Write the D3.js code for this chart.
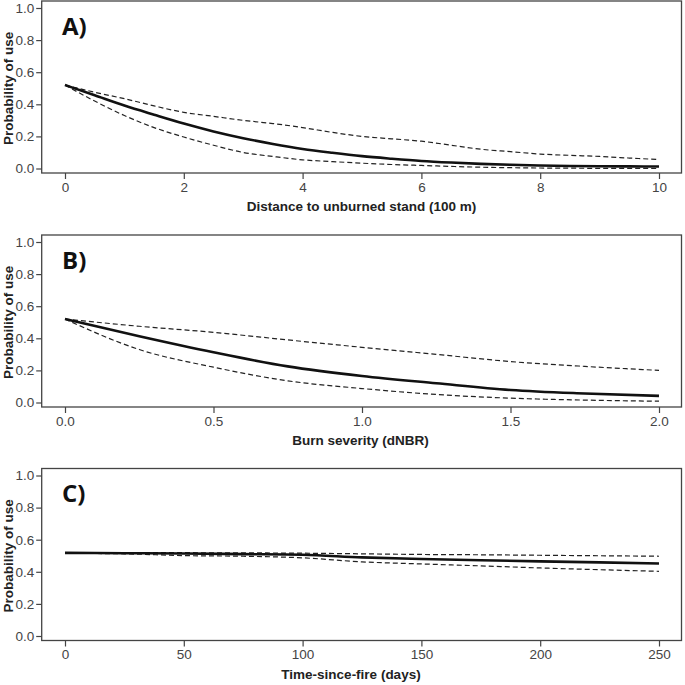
<!DOCTYPE html>
<html><head><meta charset="utf-8">
<script src="https://cdn.jsdelivr.net/npm/d3@7"></script>
<style>
html,body{margin:0;padding:0;background:#fff;}
svg{display:block;}
text{font-family:"Liberation Sans",Arial,sans-serif;}
</style></head>
<body>
<script>
// ---------- data ----------
const panelLabels = ["A)", "B)", "C)"];
const xTitles = ["Distance to unburned stand (100 m)", "Burn severity (dNBR)", "Time-since-fire (days)"];
const yTitle = "Probability of use";
const yTicks = [0, 0.2, 0.4, 0.6, 0.8, 1.0];

// Panel A
const distX = [0,0.5,1,1.5,2,2.5,3,3.5,4,4.5,5,5.5,6,6.5,7,7.5,8,8.5,9,9.5,10];
const distFit = [0.52,0.456,0.392,0.335,0.28,0.231,0.189,0.153,0.122,0.098,0.077,0.061,0.047,0.037,0.029,0.023,0.019,0.016,0.014,0.013,0.012];
const distUpper = [0.52,0.475,0.435,0.39,0.35,0.325,0.30,0.28,0.255,0.225,0.20,0.185,0.17,0.145,0.12,0.105,0.09,0.082,0.075,0.065,0.056];
const distLower = [0.52,0.42,0.33,0.255,0.196,0.145,0.10,0.075,0.054,0.043,0.033,0.025,0.019,0.013,0.008,0.005,0.003,0.002,0.001,0.0005,0.0];
const distTicks = [0,2,4,6,8,10];

// Panel B
const sevX = [0,0.25,0.5,0.75,1.0,1.25,1.5,1.75,2.0];
const sevFit = [0.52,0.413,0.313,0.225,0.165,0.12,0.078,0.056,0.041];
const sevUpper = [0.52,0.475,0.437,0.39,0.344,0.30,0.255,0.225,0.20];
const sevLower = [0.52,0.33,0.22,0.135,0.087,0.05,0.027,0.015,0.008];
const sevTicks = [0.0,0.5,1.0,1.5,2.0];

// Panel C
const tsfX = [0,25,50,75,100,125,150,175,200,225,250];
const tsfFit = [0.518,0.516,0.514,0.51,0.506,0.49,0.48,0.472,0.465,0.459,0.452];
const tsfUpper = [0.52,0.52,0.519,0.518,0.516,0.512,0.508,0.506,0.503,0.5,0.497];
const tsfLower = [0.515,0.512,0.501,0.497,0.487,0.462,0.449,0.437,0.424,0.413,0.403];
const tsfTicks = [0,50,100,150,200,250];

const panels = [
  {x: distX, fit: distFit, up: distUpper, lo: distLower, ticks: distTicks, dom: [0,10], fmt: d3.format("d")},
  {x: sevX, fit: sevFit, up: sevUpper, lo: sevLower, ticks: sevTicks, dom: [0,2], fmt: d3.format(".1f")},
  {x: tsfX, fit: tsfFit, up: tsfUpper, lo: tsfLower, ticks: tsfTicks, dom: [0,250], fmt: d3.format("d")}
];

// ---------- layout ----------
const W = 685, H = 685;
const frameL = 41.7, frameR = 681.5, frameH = 172;
const tops = [1, 235, 468.5];
const titleCx = [361.5, 360.5, 351];

const svg = d3.select("body").append("svg").attr("width", W).attr("height", H);

panels.forEach((p, i) => {
  const T = tops[i], B = T + frameH;
  const x = d3.scaleLinear().domain(p.dom).range([65, 659]);
  const y = d3.scaleLinear().domain([0, 1]).range([T + 167.5, T + 7]);
  const g = svg.append("g");

  // y axis
  const ya = g.append("g").attr("transform", `translate(${frameL},0)`)
    .call(d3.axisLeft(y).tickValues(yTicks).tickFormat(d3.format(".1f")).tickSize(5.5).tickPadding(2));
  // x axis
  const xa = g.append("g").attr("transform", `translate(0,${B})`)
    .call(d3.axisBottom(x).tickValues(p.ticks).tickFormat(p.fmt).tickSize(6).tickPadding(3));
  [ya, xa].forEach(a => {
    a.select(".domain").remove();
    a.selectAll(".tick line").attr("stroke", "#444").attr("stroke-width", 1.2);
    a.selectAll(".tick text").attr("fill", "#444").style("font-size", "13.5px")
      .style("font-family", '"Liberation Sans",Arial,sans-serif');
  });

  // frame
  g.append("rect").attr("x", frameL).attr("y", T).attr("width", frameR - frameL).attr("height", frameH)
    .attr("fill", "none").attr("stroke", "#444").attr("stroke-width", 1.3);

  const line = (vals) => d3.line().x((d, j) => x(p.x[j])).y(d => y(d)).curve(d3.curveMonotoneX)(vals);

  g.append("path").attr("d", line(p.up)).attr("fill", "none").attr("stroke", "#222")
    .attr("stroke-width", 1.2).attr("stroke-dasharray", "5,3");
  g.append("path").attr("d", line(p.lo)).attr("fill", "none").attr("stroke", "#222")
    .attr("stroke-width", 1.2).attr("stroke-dasharray", "5,3");
  g.append("path").attr("d", line(p.fit)).attr("fill", "none").attr("stroke", "#111")
    .attr("stroke-width", 2.6);

  // panel label
  g.append("text").attr("x", 62).attr("y", T + 33.5).text(panelLabels[i])
    .style("font-family", '"Open Sans",sans-serif').style("font-weight", "700")
    .style("font-size", "24px").attr("fill", "#111");

  // x title
  g.append("text").attr("x", titleCx[i]).attr("y", B + 38).attr("text-anchor", "middle")
    .text(xTitles[i]).style("font-weight", "700").style("font-size", "13.5px").attr("fill", "#222");

  // y title
  g.append("text").attr("transform", `translate(12.5,${(y(0) + y(1)) / 2}) rotate(-90)`)
    .attr("text-anchor", "middle").text(yTitle)
    .style("font-weight", "700").style("font-size", "13.5px").attr("fill", "#222");
});
</script>
</body></html>
